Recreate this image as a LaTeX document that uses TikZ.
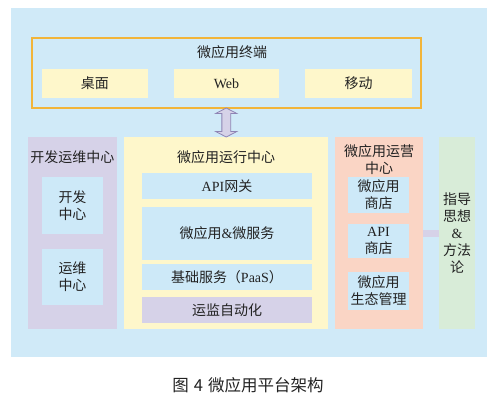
\documentclass[tikz,border=0pt]{standalone}
\usepackage{fontspec}
\setmainfont{Liberation Serif}
\newfontfamily\cjk{Noto Sans CJK SC}
\usetikzlibrary{shapes.arrows,calc}
\definecolor{bgblue}{HTML}{D0EAF8}
\definecolor{subblue}{HTML}{CDE9F8}
\definecolor{yel}{HTML}{FEF7CB}
\definecolor{lav}{HTML}{D6D2E8}
\definecolor{salm}{HTML}{FAD5C5}
\definecolor{grn}{HTML}{D8ECD8}
\definecolor{orng}{HTML}{F2B53A}
\definecolor{arrowline}{HTML}{8E84B4}
\definecolor{txt}{HTML}{222222}
\tikzset{
  base/.style={inner sep=0pt, outer sep=0pt, text=txt, font=\fontsize{14}{17}\cjk, align=center},
  colbox/.style={base, draw=none},
  lbl/.style={base},
}
\begin{document}
\begin{tikzpicture}[x=1pt,y=-1pt]
\useasboundingbox (0,0) rectangle (499,405);
% background
\node[colbox, fill=bgblue, minimum width=476pt, minimum height=349pt] (bg) at (249,182.5) {};
% terminal
\node[colbox, draw=orng, line width=1.3pt, fill=bgblue, minimum width=389pt, minimum height=70pt] (term) at (226.5,73) {};
\node[lbl] (termt) at (232,52) {微应用终端};
\node[colbox, fill=yel, minimum width=106pt, minimum height=29pt] (desk) at (95,83.5) {桌面};
\node[colbox, fill=yel, minimum width=105pt, minimum height=29pt] (web) at (226.5,83.5) {\rmfamily Web};
\node[colbox, fill=yel, minimum width=107pt, minimum height=29pt] (mob) at (358.5,83.5) {移动};
% devops column
\node[colbox, fill=lav, minimum width=89pt, minimum height=192pt] (dev) at (72.5,233) {};
\node[lbl] (devt) at (72.5,157) {开发运维中心};
\node[colbox, fill=subblue, minimum width=61pt, minimum height=57pt] (devc) at (72.5,205.5) {开发\\中心};
\node[colbox, fill=subblue, minimum width=61pt, minimum height=56pt] (opsc) at (72.5,277) {运维\\中心};
% run column
\node[colbox, fill=yel, minimum width=204pt, minimum height=192pt] (run) at (226,233) {};
\node[lbl] (runt) at (226,157) {微应用运行中心};
\node[colbox, fill=subblue, minimum width=170pt, minimum height=26pt] (api) at (227,186) {{\rmfamily API}网关};
\node[colbox, fill=subblue, minimum width=170pt, minimum height=53pt] (ms) at (227,233.5) {微应用{\rmfamily\&}微服务};
\node[colbox, fill=subblue, minimum width=170pt, minimum height=26pt] (paas) at (227,277) {基础服务（{\rmfamily PaaS}）};
\node[colbox, fill=lav, minimum width=170pt, minimum height=26pt] (auto) at (227,310) {运监自动化};
% operations column
\node[colbox, fill=salm, minimum width=88pt, minimum height=192pt] (op) at (379,233) {};
\node[lbl] (opt) at (379,160) {微应用运营\\中心};
\node[colbox, fill=subblue, minimum width=61pt, minimum height=36pt] (store) at (378.5,195) {微应用\\商店};
\node[colbox, fill=subblue, minimum width=61pt, minimum height=34pt] (apis) at (378.5,241) {{\rmfamily API}\\商店};
\node[colbox, fill=subblue, minimum width=61pt, minimum height=38pt] (eco) at (378.5,291) {微应用\\生态管理};
% guidance column
\node[colbox, fill=grn, minimum width=36pt, minimum height=192pt] (guide) at (457,233) {指导\\思想\\{\rmfamily\&}\\方法\\论};
% connectors
\node[double arrow, shape border rotate=90, draw=arrowline, fill=lav, line width=0.8pt,
      inner sep=4pt, minimum height=29pt, double arrow head extend=6pt, double arrow tip angle=125]
      (arr) at ($(term.south)!0.5!(run.north)$) {};
\draw[lav, line width=7pt] (guide.west |- 0,233) coordinate (ga) -- (op.east |- 0,233) coordinate (ob);
% caption
\node[base, font=\fontsize{16.5}{18}\cjk] (cap) at (248,385) {图\hspace{5pt}4\hspace{5pt}微应用平台架构};
\end{tikzpicture}
\end{document}
